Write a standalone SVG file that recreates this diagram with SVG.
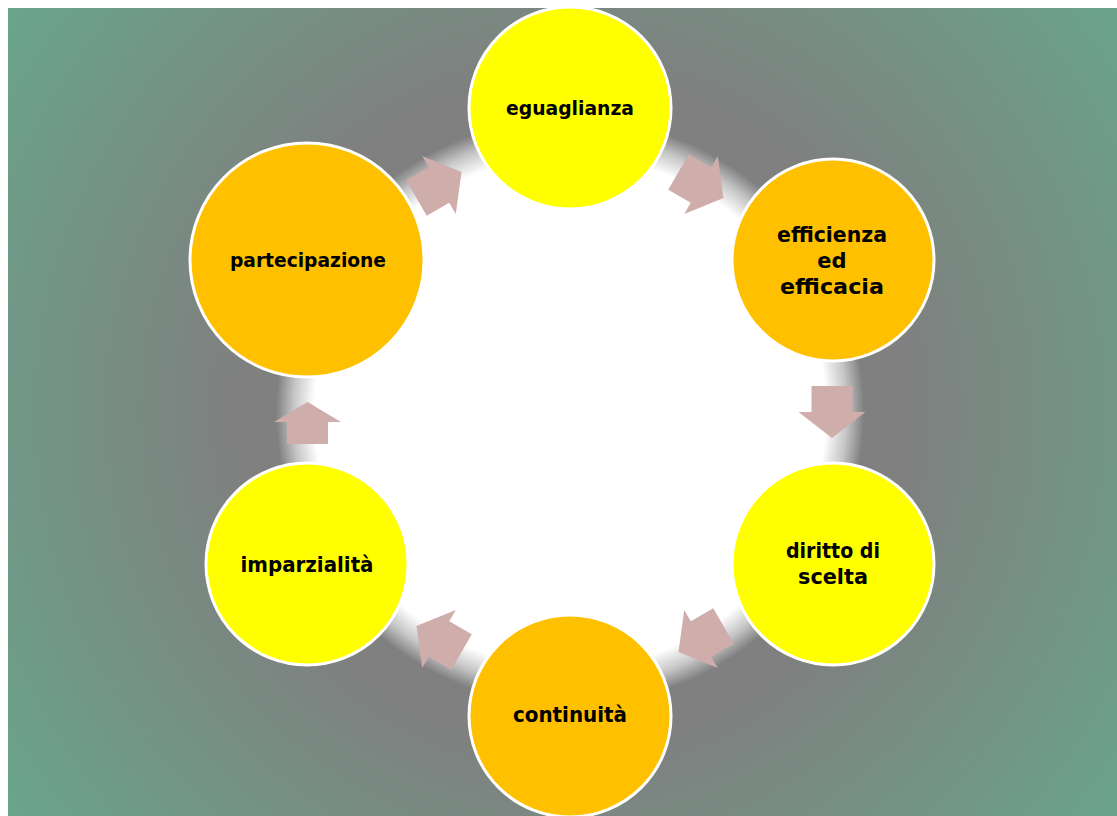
<svg xmlns="http://www.w3.org/2000/svg" width="1117" height="816" viewBox="0 0 1117 816">
<defs>
<radialGradient id="bg" gradientUnits="userSpaceOnUse" cx="570" cy="412" r="740">
<stop offset="0" stop-color="#7f7f7f"/>
<stop offset="0.45" stop-color="#7f807f"/>
<stop offset="1" stop-color="#66aa8e"/>
</radialGradient>
<radialGradient id="glow" gradientUnits="userSpaceOnUse" cx="570" cy="412" r="294">
<stop offset="0" stop-color="#fff" stop-opacity="1"/>
<stop offset="0.87" stop-color="#fff" stop-opacity="1"/>
<stop offset="0.94" stop-color="#fff" stop-opacity="0.55"/>
<stop offset="1" stop-color="#fff" stop-opacity="0"/>
</radialGradient>
<polygon id="arr" points="544,129.5 570,129.5 570,116.5 596,150 570,183.5 570,170.5 544,170.5"/>
</defs>
<style>
.y{fill:#ffff00;stroke:#fff;stroke-width:3}
.o{fill:#ffc000;stroke:#fff;stroke-width:3}
.t{font-family:"DejaVu Sans","Liberation Sans",sans-serif;font-weight:bold;fill:#000;text-anchor:middle}
.a{fill:#cfadab}
</style>
<rect x="0" y="0" width="1117" height="816" fill="#fff"/>
<rect x="8" y="8" width="1109" height="808" fill="url(#bg)"/>
<circle cx="570" cy="412" r="294" fill="url(#glow)"/>
<g id="connectors" class="a">
<use href="#arr" transform="rotate(30 570 412)"/>
<use href="#arr" transform="rotate(90 570 412)"/>
<use href="#arr" transform="rotate(150 570 412)"/>
<use href="#arr" transform="rotate(210 570 412)"/>
<polygon points="287,444 287,422 274,422 307.5,402 341,422 328,422 328,444"/>
<use href="#arr" transform="rotate(330 570 412)"/>
</g>
<g id="eguaglianza">
<circle class="y" cx="570" cy="108" r="101"/>
<text class="t" x="570" y="115" font-size="19" textLength="128" lengthAdjust="spacingAndGlyphs">eguaglianza</text>
</g>
<g id="efficienza">
<circle class="o" cx="833" cy="260" r="101"/>
<text class="t" x="832" y="242" font-size="21" textLength="110" lengthAdjust="spacingAndGlyphs">efficienza</text>
<text class="t" x="832" y="268" font-size="21">ed</text>
<text class="t" x="832" y="294" font-size="21" textLength="104" lengthAdjust="spacingAndGlyphs">efficacia</text>
</g>
<g id="diritto">
<circle class="y" cx="833" cy="564" r="101"/>
<text class="t" x="833" y="558" font-size="21" textLength="94" lengthAdjust="spacingAndGlyphs">diritto di</text>
<text class="t" x="833" y="584" font-size="21" textLength="70" lengthAdjust="spacingAndGlyphs">scelta</text>
</g>
<g id="continuita">
<circle class="o" cx="570" cy="716" r="101"/>
<text class="t" x="570" y="722" font-size="21" textLength="114" lengthAdjust="spacingAndGlyphs">continuità</text>
</g>
<g id="imparzialita">
<circle class="y" cx="307" cy="564" r="101"/>
<text class="t" x="307" y="572" font-size="21" textLength="133" lengthAdjust="spacingAndGlyphs">imparzialità</text>
</g>
<g id="partecipazione">
<circle class="o" cx="307" cy="260" r="117"/>
<text class="t" x="308" y="267" font-size="19" textLength="156" lengthAdjust="spacingAndGlyphs">partecipazione</text>
</g>
</svg>
